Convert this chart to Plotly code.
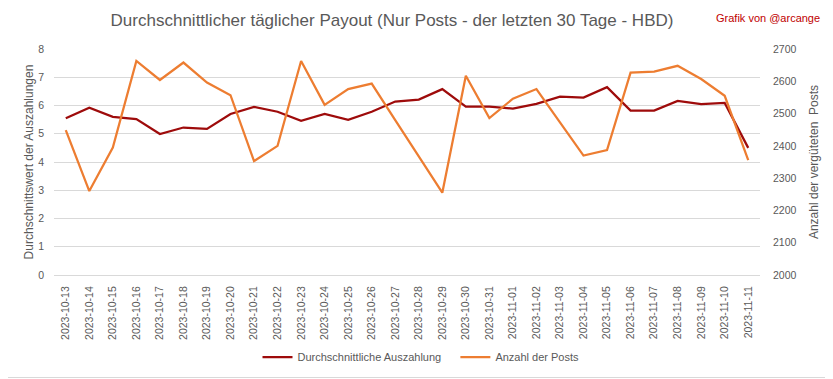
import plotly.graph_objects as go

dates = ["2023-10-13", "2023-10-14", "2023-10-15", "2023-10-16", "2023-10-17", "2023-10-18",
         "2023-10-19", "2023-10-20", "2023-10-21", "2023-10-22", "2023-10-23", "2023-10-24",
         "2023-10-25", "2023-10-26", "2023-10-27", "2023-10-28", "2023-10-29", "2023-10-30",
         "2023-10-31", "2023-11-01", "2023-11-02", "2023-11-03", "2023-11-04", "2023-11-05",
         "2023-11-06", "2023-11-07", "2023-11-08", "2023-11-09", "2023-11-10", "2023-11-11"]

avg_payout = [5.55, 5.92, 5.60, 5.52, 4.99, 5.22, 5.17, 5.70, 5.95, 5.78, 5.46, 5.70,
              5.49, 5.78, 6.14, 6.21, 6.58, 5.96, 5.96, 5.89, 6.06, 6.31, 6.28, 6.65,
              5.82, 5.82, 6.16, 6.05, 6.09, 4.50]

post_count = [2449, 2260, 2395, 2663, 2604, 2658, 2596, 2557, 2353, 2400, 2663, 2527,
              2576, 2593, 2480, 2368, 2255, 2617, 2486, 2546, 2576, 2473, 2370, 2387,
              2627, 2630, 2648, 2607, 2555, 2356]

FONT = "Liberation Sans, Arial, sans-serif"
OFF = 8  # page body margin: figure starts at (8, 8) in the window
W, H = 833 - OFF, 379 - OFF
# plot area in window coordinates: x 54..760, y 49..275
PL, PR, PT, PB = 54 - OFF, 760 - OFF, 49 - OFF, 275 - OFF
ML, MR, MT, MB = PL, W - PR, PT, H - PB
PW, PH = PR - PL, PB - PT


def px(xw):  # window x -> paper fraction
    return (xw - OFF - PL) / PW


def py(yw):  # window y -> paper fraction
    return (PB - (yw - OFF)) / PH


fig = go.Figure()
fig.add_trace(go.Scatter(x=dates, y=avg_payout, mode="lines",
                         name="Durchschnittliche Auszahlung\u00a0\u00a0\u00a0",
                         line=dict(color="#9E0B0B", width=2.25)))
fig.add_trace(go.Scatter(x=dates, y=post_count, mode="lines",
                         name="Anzahl der Posts", yaxis="y2",
                         line=dict(color="#ED7D31", width=2.25)))

fig.update_layout(
    width=W, height=H,
    margin=dict(l=ML, r=MR, t=MT, b=MB, autoexpand=False),
    paper_bgcolor="white", plot_bgcolor="white",
    font=dict(family=FONT, color="#595959", size=11),
    title=dict(text="Durchschnittlicher täglicher Payout (Nur Posts - der letzten 30 Tage - HBD)",
               x=(392 - OFF) / W, xanchor="center", y=1 - (20 - OFF) / H, yanchor="middle",
               font=dict(size=17, color="#595959", family=FONT)),
    xaxis=dict(type="category", tickangle=-90, showgrid=False, range=[-0.5, 29.5],
               showline=True, linecolor="#D9D9D9", ticks="", ticklabelstandoff=6,
               tickfont=dict(size=10.5, color="#595959")),
    yaxis=dict(range=[0, 8], dtick=1, showgrid=True, gridcolor="#D9D9D9",
               zeroline=False, ticks="", ticklabelstandoff=9,
               tickfont=dict(size=10.5, color="#595959"),
               title=dict(text="Durchschnittswert der Auszahlungen", standoff=1,
                          font=dict(size=12, color="#595959"))),
    yaxis2=dict(range=[2000, 2700], dtick=100, overlaying="y", side="right",
                showgrid=False, zeroline=False, ticks="", ticklabelstandoff=12,
                tickfont=dict(size=10.5, color="#595959"),
                title=dict(text="Anzahl der vergüteten\u00a0 Posts", standoff=14,
                           font=dict(size=12, color="#595959"))),
    legend=dict(orientation="h", x=px(421), xanchor="center", y=py(357),
                yanchor="middle", font=dict(size=11, color="#595959")),
    showlegend=True,
)

fig.add_annotation(text="Grafik von @arcange", xref="paper", yref="paper",
                   x=px(822), y=py(18), xanchor="right", yanchor="middle",
                   showarrow=False, font=dict(size=11, color="#C00000", family=FONT))

# chart border (right and bottom edges; left/top fall on the page margin)
fig.add_shape(type="line", xref="paper", yref="paper",
              x0=px(831), x1=px(831), y0=py(8), y1=py(377.5),
              line=dict(color="#D9D9D9", width=1))
fig.add_shape(type="line", xref="paper", yref="paper",
              x0=px(8), x1=px(831), y0=py(377.5), y1=py(377.5),
              line=dict(color="#D9D9D9", width=1))

fig.write_html("out.html")
